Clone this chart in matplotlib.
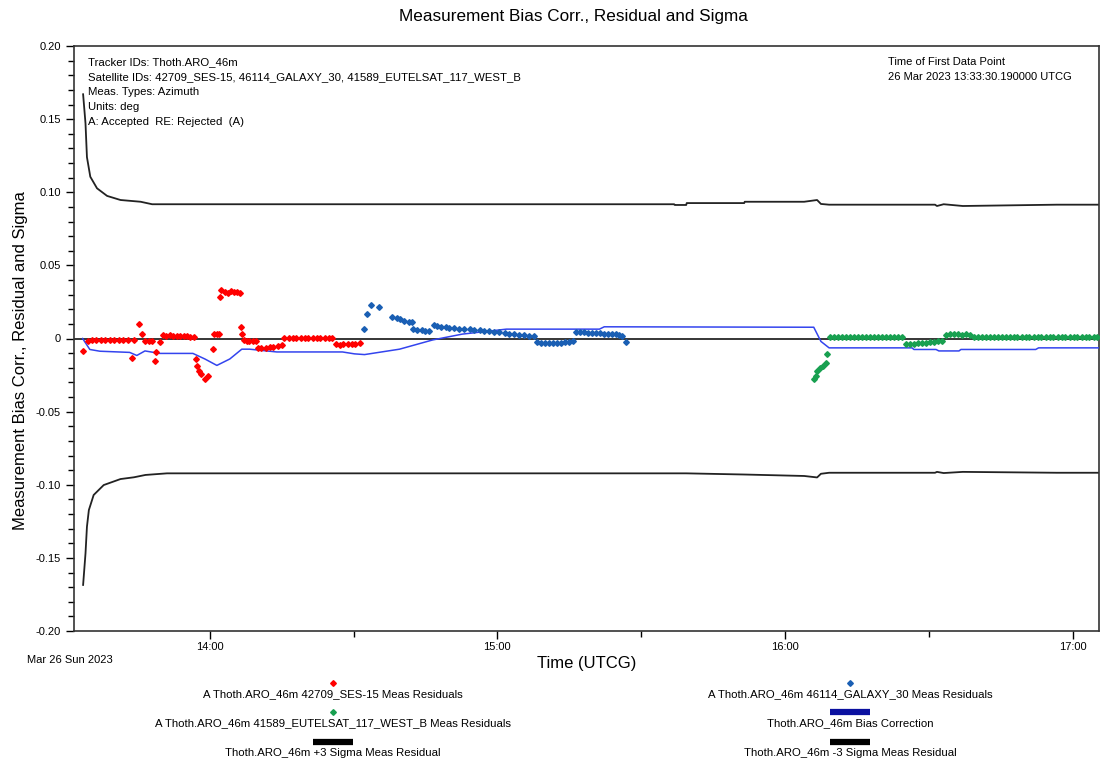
import matplotlib
matplotlib.use("Agg")
import matplotlib.pyplot as plt
from matplotlib.lines import Line2D
from matplotlib.ticker import FixedLocator, FuncFormatter, MultipleLocator

plt.rcParams['font.family'] = ['Liberation Sans', 'DejaVu Sans']

# ---- data (time in minutes after 13:00 UTCG, values in deg) ----
ses_t = [33.5, 34.6, 35.4, 36.3, 37.3, 38.1, 39.2, 40.0, 41.0, 41.9, 42.9,
         43.9, 44.2, 45.2, 45.8, 46.5, 47.3, 47.9, 48.5, 48.9, 49.6, 50.2,
         50.8, 51.7, 52.3, 53.1, 53.8, 54.6, 55.2, 56.0, 56.7,
         57.2, 57.3, 57.7, 58.2, 59.0, 59.6, 60.6, 61.0, 61.5, 61.9,
         62.2, 62.4, 63.1, 63.8, 64.4, 65.0, 65.6, 66.3, 66.6, 66.8,
         67.1, 67.7, 68.3, 69.0, 69.6, 70.0, 70.8, 71.7, 72.5, 73.3, 74.2, 75.0,
         75.6, 76.5, 77.3, 78.1, 79.0, 79.8, 80.6, 81.5, 82.3, 83.1, 84.0, 84.8, 85.6,
         86.3, 87.1, 87.9, 88.8, 89.6, 90.4, 91.3]
ses_v = [-0.0087, -0.0015, -0.0013, -0.0012, -0.0012, -0.0010, -0.0012, -0.0010, -0.0010, -0.0012, -0.0010,
         -0.0130, -0.0012, 0.0096, 0.0034, -0.0017, -0.0020, -0.0015, -0.0155, -0.0093, -0.0025, 0.0027,
         0.0020, 0.0022, 0.0018, 0.0020, 0.0015, 0.0018, 0.0015, 0.0010, 0.0010,
         -0.0139, -0.0189, -0.0223, -0.0246, -0.0276, -0.0253, -0.0075, 0.0034, 0.0034, 0.0034,
         0.0285, 0.0335, 0.0320, 0.0310, 0.0325, 0.0315, 0.0320, 0.0310, 0.0080, 0.0034,
         -0.0010, -0.0020, -0.0015, -0.0020, -0.0020, -0.0065, -0.0068, -0.0062, -0.0060, -0.0055, -0.0050, -0.0045,
         0.0003, 0.0004, 0.0003, 0.0004, 0.0003, 0.0003, 0.0004, 0.0003, 0.0003, 0.0004, 0.0003, 0.0003, 0.0003,
         -0.0040, -0.0045, -0.0040, -0.0038, -0.0035, -0.0035, -0.0033]

galaxy_t = [92.1, 92.8, 93.7, 95.3, 98.1, 99.0, 99.8, 100.6, 101.5, 102.1,
            102.5, 103.3, 104.2, 105.0, 105.8, 106.7, 107.5, 108.3, 109.2, 110.0,
            111.0, 112.1, 113.1, 114.2, 115.2, 116.3, 117.3, 118.3, 119.4, 120.4,
            121.5, 122.5, 123.5, 124.6, 125.6, 126.7, 127.7, 128.3, 129.2, 130.0,
            130.8, 131.7, 132.5, 133.3, 134.2, 135.0, 135.8, 136.5, 137.3, 138.1,
            139.0, 139.8, 140.6, 141.5, 142.3, 143.1, 144.0, 144.8, 145.4, 146.0, 146.9]
galaxy_v = [0.0068, 0.0170, 0.0228, 0.0216, 0.0150, 0.0139, 0.0130, 0.0122, 0.0115, 0.0110,
            0.0064, 0.0058, 0.0055, 0.0052, 0.0048, 0.0090, 0.0085, 0.0082, 0.0078, 0.0075,
            0.0072, 0.0068, 0.0065, 0.0062, 0.0060, 0.0055, 0.0052, 0.0050, 0.0046, 0.0043,
            0.0040, 0.0030, 0.0028, 0.0025, 0.0023, 0.0020, 0.0018, -0.0025, -0.0028, -0.0030,
            -0.0030, -0.0028, -0.0030, -0.0028, -0.0025, -0.0025, -0.0020, 0.0045, 0.0042, 0.0045,
            0.0040, 0.0038, 0.0035, 0.0035, 0.0032, 0.0030, 0.0030, 0.0030, 0.0025, 0.0020, -0.0025]

eutelsat_t = [186.0, 186.4, 186.7, 187.3, 187.9, 188.5, 188.8,
              189.4, 190.2, 191.0, 191.9, 192.7, 193.5, 194.4, 195.2, 196.0, 196.9,
              197.7, 198.5, 199.4, 200.2, 201.0, 201.9, 202.7, 203.5, 204.4,
              205.2, 206.0, 206.9, 207.7, 208.5, 209.4, 210.2, 211.0, 211.9, 212.7,
              213.5, 214.4, 215.2, 216.0, 216.9, 217.7, 218.5,
              219.4, 220.2, 221.0, 221.9, 222.7, 223.5, 224.4, 225.2, 226.0, 226.9,
              227.7, 228.5, 229.4, 230.2, 231.0, 231.9, 232.7, 233.5, 234.4, 235.2,
              236.0, 236.9, 237.7, 238.5, 239.4, 240.2, 241.0, 241.9, 242.7, 243.5,
              244.4, 245.0]
eutelsat_v = [-0.0274, -0.0253, -0.0220, -0.0205, -0.0190, -0.0166, -0.0103,
              0.0011, 0.0012, 0.0010, 0.0011, 0.0012, 0.0010, 0.0011, 0.0012, 0.0011, 0.0010,
              0.0011, 0.0012, 0.0010, 0.0011, 0.0011, 0.0012, 0.0010, 0.0011, 0.0010,
              -0.0040, -0.0038, -0.0035, -0.0033, -0.0030, -0.0028, -0.0025, -0.0022, -0.0020, -0.0018,
              0.0025, 0.0030, 0.0028, 0.0030, 0.0027, 0.0028, 0.0025,
              0.0012, 0.0010, 0.0011, 0.0012, 0.0010, 0.0009, 0.0011, 0.0010, 0.0009, 0.0010,
              0.0008, 0.0009, 0.0010, 0.0008, 0.0009, 0.0008, 0.0009, 0.0008, 0.0007, 0.0009,
              0.0008, 0.0007, 0.0008, 0.0009, 0.0007, 0.0008, 0.0007, 0.0008, 0.0007, 0.0008,
              0.0007, 0.0008]

bias_t = [33.5, 35.0, 37.1, 43.3, 44.8, 46.5, 49.6, 56.5, 59.0, 61.5, 64.2, 66.7,
          68.3, 70.4, 74.0, 87.7, 90.2, 92.3, 99.6, 106.5, 112.7, 121.9, 141.3,
          142.3, 186.0, 187.5, 189.2, 206.5, 206.9, 211.5, 212.1, 216.3, 216.7,
          232.3, 232.9, 245.4]
bias_v = [0.0, -0.0075, -0.0087, -0.0095, -0.0116, -0.0085, -0.0102, -0.0102, -0.0140,
          -0.0184, -0.0140, -0.0073, -0.0073, -0.0080, -0.0092, -0.0092, -0.0105, -0.0110,
          -0.0073, -0.0010, 0.0030, 0.0064, 0.0064, 0.0080, 0.0077, -0.0020, -0.0064,
          -0.0064, -0.0075, -0.0075, -0.0085, -0.0085, -0.0075, -0.0075, -0.0064, -0.0064]

sig_up_t = [33.6, 34.1, 34.4, 35.1, 36.5, 38.6, 41.4, 45.6, 48.0, 156.9, 157.0,
            159.4, 159.5, 171.5, 171.6, 184.0, 186.7, 187.5, 189.2, 211.3, 211.7,
            213.1, 217.1, 236.7, 245.4]
sig_up_v = [0.167, 0.147, 0.124, 0.1106, 0.1027, 0.0975, 0.0947, 0.0935, 0.0918, 0.0918, 0.0913,
            0.0913, 0.0926, 0.0926, 0.0935, 0.0935, 0.0947, 0.0920, 0.0915, 0.0915, 0.0906,
            0.0918, 0.0906, 0.0915, 0.0915]

sig_lo_t = [33.6, 34.1, 34.4, 34.8, 35.8, 37.9, 41.4, 44.2, 46.6, 51.1,
            159.4, 171.5, 184.0, 186.7, 187.5, 189.2, 211.3, 211.7,
            213.1, 217.1, 236.7, 245.4]
sig_lo_v = [-0.1685, -0.1469, -0.1287, -0.1173, -0.1070, -0.1002, -0.0961, -0.0949, -0.0933,
            -0.0922, -0.0922, -0.0930, -0.0940, -0.0950, -0.0925, -0.0918, -0.0918, -0.0912,
            -0.0920, -0.0912, -0.0918, -0.0918]

hour_ticks = [60, 120, 180, 240]
hour_labels = ["14:00", "15:00", "16:00", "17:00"]

# ---- figure ----
fig = plt.figure(figsize=(11.02, 7.63), dpi=100)
ax = fig.add_axes([74 / 1102, 1 - 631 / 763, (1099 - 74) / 1102, (631 - 46) / 763])

c_red = '#ff0000'
c_blue = '#1a5fb4'
c_green = '#18a050'
c_bias = '#3344ee'
ms = 2.9

ax.axhline(0, color='black', lw=1.1, zorder=1)
ax.plot(sig_up_t, sig_up_v, color='#222222', lw=1.3, zorder=2)
ax.plot(sig_lo_t, sig_lo_v, color='#222222', lw=1.3, zorder=2)
ax.plot(bias_t, bias_v, color=c_bias, lw=1.1, zorder=3)
ax.plot(ses_t, ses_v, ls='none', marker='D', ms=ms, color=c_red, mec=c_red, zorder=4)
ax.plot(galaxy_t, galaxy_v, ls='none', marker='D', ms=ms, color=c_blue, mec=c_blue, zorder=4)
ax.plot(eutelsat_t, eutelsat_v, ls='none', marker='D', ms=ms, color=c_green, mec=c_green, zorder=4)

ax.set_xlim(31.7, 245.5)
ax.set_ylim(-0.20, 0.20)
ax.xaxis.set_major_locator(FixedLocator(hour_ticks))
ax.xaxis.set_major_formatter(FuncFormatter(lambda v, p: hour_labels[hour_ticks.index(int(round(v)))] if int(round(v)) in hour_ticks else ""))
ax.xaxis.set_minor_locator(FixedLocator([90, 150, 210]))
ax.yaxis.set_major_locator(MultipleLocator(0.05))
ax.yaxis.set_minor_locator(MultipleLocator(0.01))
ax.yaxis.set_major_formatter(FuncFormatter(lambda v, p: "0" if abs(v) < 1e-9 else f"{v:.2f}"))
ax.tick_params(axis='both', which='major', labelsize=8, length=6, width=1, direction='out')
ax.tick_params(axis='both', which='minor', length=4, width=1, direction='out')
ax.tick_params(axis='x', which='major', pad=2)
for s in ax.spines.values():
    s.set_linewidth(1.2)
    s.set_color('#333333')

ax.set_xlabel("Time (UTCG)", fontsize=12, labelpad=3)
ax.set_ylabel("Measurement Bias Corr., Residual and Sigma", fontsize=12)
ax.yaxis.set_label_coords(-0.045, 0.463)
fig.text(573 / 1102, 1 - 17 / 763, "Measurement Bias Corr., Residual and Sigma",
         ha='center', va='center', fontsize=12.3)

info = ["Tracker IDs: Thoth.ARO_46m",
        "Satellite IDs: 42709_SES-15, 46114_GALAXY_30, 41589_EUTELSAT_117_WEST_B",
        "Meas. Types: Azimuth",
        "Units: deg",
        "A: Accepted  RE: Rejected  (A)"]
for i, line in enumerate(info):
    fig.text(88 / 1102, 1 - (62 + 15 * i) / 763, line, ha='left', va='center', fontsize=8.2)
fig.text(888 / 1102, 1 - 62 / 763, "Time of First Data Point", ha='left', va='center', fontsize=8)
fig.text(888 / 1102, 1 - 77 / 763, "26 Mar 2023 13:33:30.190000 UTCG", ha='left', va='center', fontsize=8)
fig.text(70 / 1102, 1 - 660 / 763, "Mar 26 Sun 2023", ha='center', va='center', fontsize=8)

# ---- legend (marker above label) ----
def fy(y):
    return 1 - y / 763

def fx(x):
    return x / 1102

legend_items = [
    (333, 683, 694, 'marker', c_red, "A Thoth.ARO_46m 42709_SES-15 Meas Residuals"),
    (333, 712, 723, 'marker', c_green, "A Thoth.ARO_46m 41589_EUTELSAT_117_WEST_B Meas Residuals"),
    (333, 742, 753, 'bar', 'black', "Thoth.ARO_46m +3 Sigma Meas Residual"),
    (850, 683, 694, 'marker', c_blue, "A Thoth.ARO_46m 46114_GALAXY_30 Meas Residuals"),
    (850, 712, 723, 'bar', '#0a10a0', "Thoth.ARO_46m Bias Correction"),
    (850, 742, 753, 'bar', 'black', "Thoth.ARO_46m -3 Sigma Meas Residual"),
]
for cx, ys, yt, kind, col, label in legend_items:
    if kind == 'marker':
        fig.add_artist(Line2D([fx(cx)], [fy(ys)], ls='none', marker='D', ms=ms,
                              color=col, mec=col, transform=fig.transFigure))
    else:
        fig.add_artist(Line2D([fx(cx - 20), fx(cx + 20)], [fy(ys), fy(ys)], lw=4.5,
                              color=col, solid_capstyle='butt', transform=fig.transFigure))
    fig.text(fx(cx), fy(yt), label, ha='center', va='center', fontsize=8.2)

fig.savefig("out.png", dpi=100)
